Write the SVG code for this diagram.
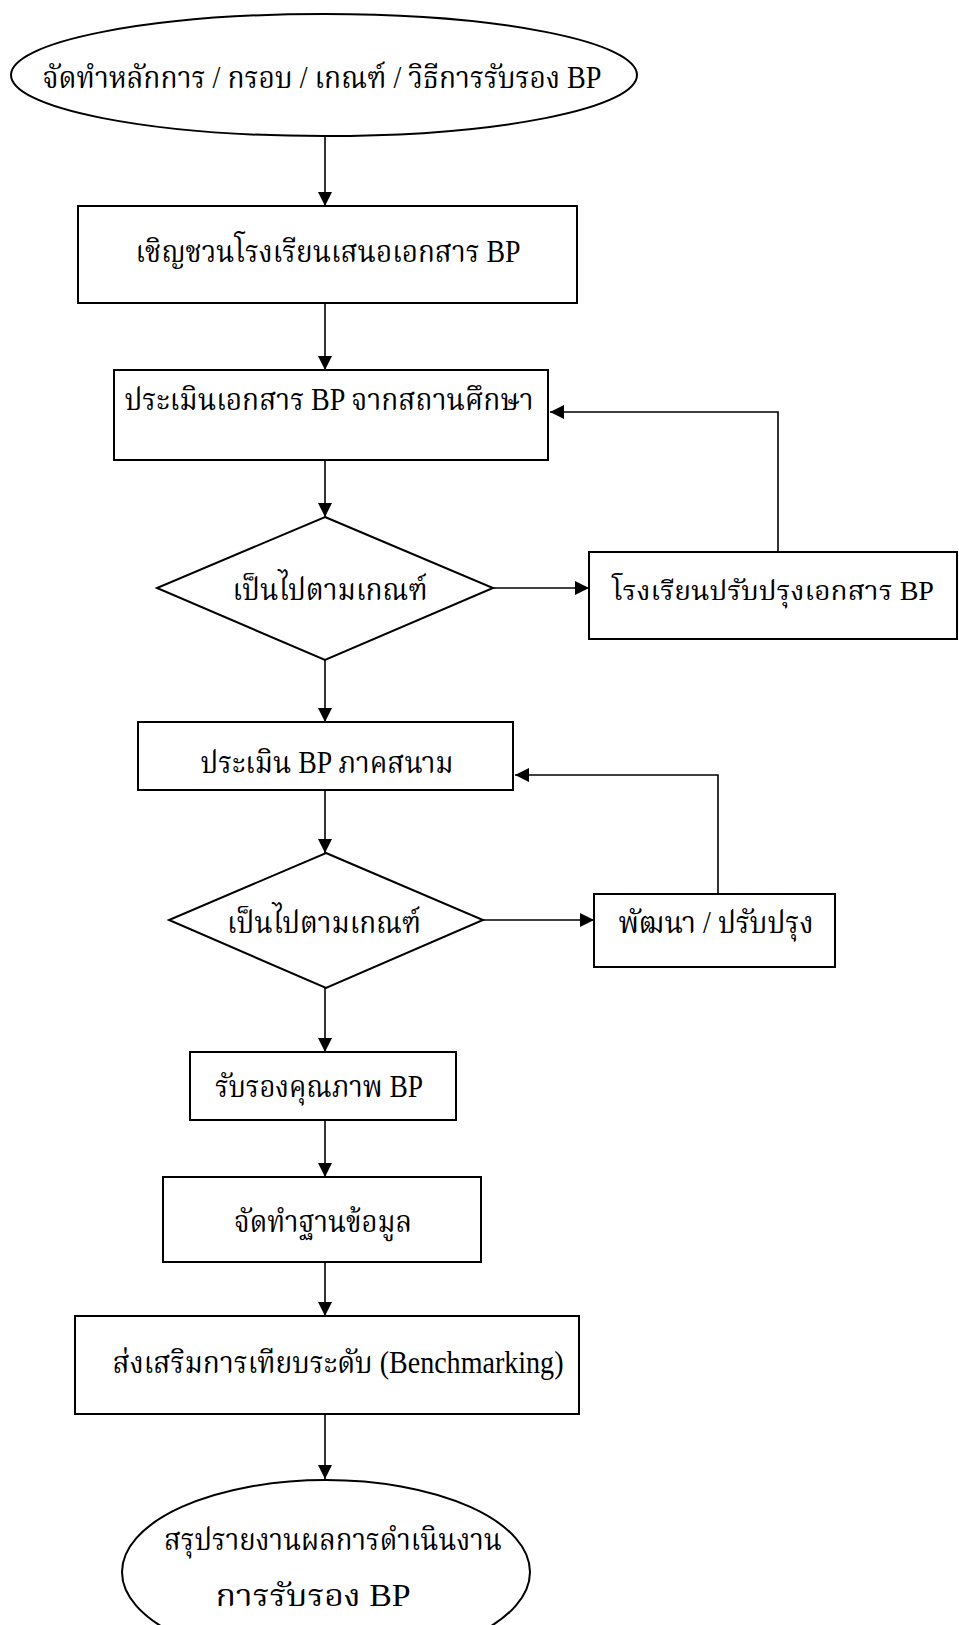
<svg xmlns="http://www.w3.org/2000/svg" width="959" height="1625" viewBox="0 0 959 1625">
<style>
.shape{fill:#fff;stroke:#000;stroke-width:2}
.conn{fill:none;stroke:#000;stroke-width:1.6}
text{font-family:"Liberation Serif","Noto Serif Thai","Noto Sans Thai","Garuda",serif;font-size:31px;fill:#000;text-anchor:middle}
</style>
<defs>
<marker id="ah" viewBox="0 0 14 14" refX="14" refY="7" markerWidth="14" markerHeight="14" markerUnits="userSpaceOnUse" orient="auto">
<path d="M0,0 L14,7 L0,14 z" fill="#000"/>
</marker>
</defs>
<rect width="959" height="1625" fill="#fff"/>
<g id="connectors">
<path class="conn" marker-end="url(#ah)" d="M325,136 V206"/>
<path class="conn" marker-end="url(#ah)" d="M325,303 V370"/>
<path class="conn" marker-end="url(#ah)" d="M325,460 V517"/>
<path class="conn" marker-end="url(#ah)" d="M325,660 V722"/>
<path class="conn" marker-end="url(#ah)" d="M325,790 V853"/>
<path class="conn" marker-end="url(#ah)" d="M325,988 V1052"/>
<path class="conn" marker-end="url(#ah)" d="M325,1120 V1177"/>
<path class="conn" marker-end="url(#ah)" d="M325,1262 V1316"/>
<path class="conn" marker-end="url(#ah)" d="M325,1414 V1479"/>
<path class="conn" marker-end="url(#ah)" d="M493,588 H589"/>
<path class="conn" marker-end="url(#ah)" d="M483,920 H594"/>
<path class="conn" marker-end="url(#ah)" d="M778,552 V412 H550"/>
<path class="conn" marker-end="url(#ah)" d="M718,894 V775 H515"/>
</g>
<g id="start">
<ellipse class="shape" cx="324" cy="75" rx="313" ry="61"/>
<text x="322" y="88" textLength="559" lengthAdjust="spacingAndGlyphs">จัดทำหลักการ / กรอบ / เกณฑ์ / วิธีการรับรอง BP</text>
</g>
<g id="invite">
<rect class="shape" x="78" y="206" width="499" height="97"/>
<text x="328" y="262" textLength="385" lengthAdjust="spacingAndGlyphs">เชิญชวนโรงเรียนเสนอเอกสาร BP</text>
</g>
<g id="evaldoc">
<rect class="shape" x="114" y="370" width="434" height="90"/>
<text x="329" y="410" textLength="409" lengthAdjust="spacingAndGlyphs">ประเมินเอกสาร BP จากสถานศึกษา</text>
</g>
<g id="decision1">
<polygon class="shape" points="325,517 493,588 325,660 157,588"/>
<text x="330" y="600" textLength="195" lengthAdjust="spacingAndGlyphs">เป็นไปตามเกณฑ์</text>
</g>
<g id="improvedoc">
<rect class="shape" x="589" y="552" width="368" height="87"/>
<text x="773" y="600" style="font-size:27px" textLength="322" lengthAdjust="spacingAndGlyphs">โรงเรียนปรับปรุงเอกสาร  BP</text>
</g>
<g id="evalfield">
<rect class="shape" x="138" y="722" width="375" height="68"/>
<text x="327" y="773" textLength="253" lengthAdjust="spacingAndGlyphs">ประเมิน BP ภาคสนาม</text>
</g>
<g id="decision2">
<polygon class="shape" points="326,853 483,920 326,988 169,920"/>
<text x="324" y="933" textLength="194" lengthAdjust="spacingAndGlyphs">เป็นไปตามเกณฑ์</text>
</g>
<g id="develop">
<rect class="shape" x="594" y="894" width="241" height="73"/>
<text x="716" y="933" textLength="195" lengthAdjust="spacingAndGlyphs">พัฒนา / ปรับปรุง</text>
</g>
<g id="certify">
<rect class="shape" x="190" y="1052" width="266" height="68"/>
<text x="319" y="1097" textLength="208" lengthAdjust="spacingAndGlyphs">รับรองคุณภาพ BP</text>
</g>
<g id="database">
<rect class="shape" x="163" y="1177" width="318" height="85"/>
<text x="323" y="1232" textLength="178" lengthAdjust="spacingAndGlyphs">จัดทำฐานข้อมูล</text>
</g>
<g id="benchmark">
<rect class="shape" x="75" y="1316" width="504" height="98"/>
<text x="338" y="1373" textLength="451" lengthAdjust="spacingAndGlyphs">ส่งเสริมการเทียบระดับ (Benchmarking)</text>
</g>
<g id="end">
<ellipse class="shape" cx="326" cy="1572" rx="204" ry="92"/>
<text x="333" y="1550" textLength="338" lengthAdjust="spacingAndGlyphs">สรุปรายงานผลการดำเนินงาน</text>
<text x="313" y="1606" textLength="195" lengthAdjust="spacingAndGlyphs">การรับรอง BP</text>
</g>
</svg>
